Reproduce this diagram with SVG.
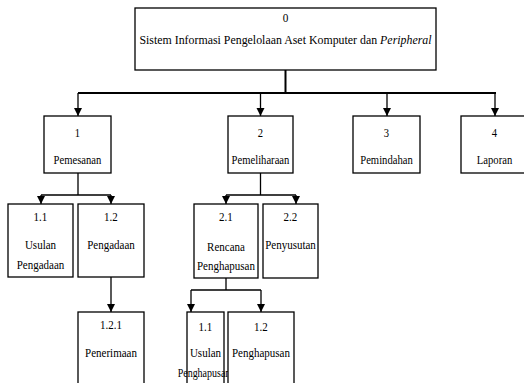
<svg xmlns="http://www.w3.org/2000/svg" width="524" height="383" viewBox="0 0 524 383">
<style>
.box{fill:#fff;stroke:#000;stroke-width:1.3}
text{font-family:'Liberation Serif','Times New Roman',serif;font-size:12.5px;fill:#000;text-anchor:middle}
.c{fill:none;stroke:#000;stroke-width:1.3}
.ct{fill:none;stroke:#000;stroke-width:2}
</style>
<defs>
<marker id="ah" viewBox="0 0 8 10" refX="8" refY="5" markerWidth="8" markerHeight="10" markerUnits="userSpaceOnUse" orient="auto">
<path d="M0,1 L8,5 L0,9 Z" fill="#000"/>
</marker>
</defs>
<rect width="524" height="383" fill="#fff"/>
<g id="connectors">
<path class="ct" d="M285.5,70 V93 M78,93 H496"/>
<path class="c" d="M78,93 V116" marker-end="url(#ah)"/>
<path class="c" d="M260.5,93 V116" marker-end="url(#ah)"/>
<path class="c" d="M387,93 V116" marker-end="url(#ah)"/>
<path class="c" d="M495,93 V116" marker-end="url(#ah)"/>
<path class="c" d="M78,173 V195 M41,195 H111"/>
<path class="c" d="M41,195 V204" marker-end="url(#ah)"/>
<path class="c" d="M111,195 V204" marker-end="url(#ah)"/>
<path class="c" d="M260.5,173 V195 M226,195 H296"/>
<path class="c" d="M226,195 V204" marker-end="url(#ah)"/>
<path class="c" d="M296,195 V204" marker-end="url(#ah)"/>
<path class="c" d="M111,277 V312" marker-end="url(#ah)"/>
<path class="c" d="M226,278 V290 M191,290 H261"/>
<path class="c" d="M191,290 V312" marker-end="url(#ah)"/>
<path class="c" d="M261,290 V312" marker-end="url(#ah)"/>
</g>
<g id="n0">
<rect class="box" x="135" y="8" width="301" height="62"/>
<text transform="translate(285.5,22) scale(0.9,1)">0</text>
<text transform="translate(285.5,44) scale(0.95,1)">Sistem Informasi Pengelolaan Aset Komputer dan <tspan font-style="italic">Peripheral</tspan></text>
</g>
<g id="n1">
<rect class="box" x="44" y="116" width="67" height="57"/>
<text transform="translate(77.5,137) scale(0.85,1)">1</text>
<text transform="translate(77.5,164) scale(0.85,1)">Pemesanan</text>
</g>
<g id="n2">
<rect class="box" x="228" y="116" width="65" height="57"/>
<text transform="translate(260.5,137) scale(0.85,1)">2</text>
<text transform="translate(260.5,164) scale(0.85,1)">Pemeliharaan</text>
</g>
<g id="n3">
<rect class="box" x="353" y="116" width="67" height="57"/>
<text transform="translate(386.5,137) scale(0.85,1)">3</text>
<text transform="translate(386.5,164) scale(0.85,1)">Pemindahan</text>
</g>
<g id="n4">
<rect class="box" x="461" y="116" width="67" height="57"/>
<text transform="translate(494.5,137) scale(0.85,1)">4</text>
<text transform="translate(494.5,164) scale(0.85,1)">Laporan</text>
</g>
<g id="n1-1">
<rect class="box" x="8" y="204" width="65" height="73"/>
<text transform="translate(40.5,221) scale(0.88,1)">1.1</text>
<text transform="translate(40.5,249) scale(0.88,1)">Usulan</text>
<text transform="translate(40.5,269) scale(0.88,1)">Pengadaan</text>
</g>
<g id="n1-2">
<rect class="box" x="78" y="204" width="66" height="73"/>
<text transform="translate(111,221) scale(0.88,1)">1.2</text>
<text transform="translate(111,249) scale(0.88,1)">Pengadaan</text>
</g>
<g id="n1-2-1">
<rect class="box" x="78" y="312" width="66" height="80"/>
<text transform="translate(111,329) scale(0.88,1)">1.2.1</text>
<text transform="translate(111,357) scale(0.88,1)">Penerimaan</text>
</g>
<g id="n2-1">
<rect class="box" x="194" y="204" width="64" height="74"/>
<text transform="translate(226,221) scale(0.88,1)">2.1</text>
<text transform="translate(226,251) scale(0.88,1)">Rencana</text>
<text transform="translate(226,270) scale(0.88,1)">Penghapusan</text>
</g>
<g id="n2-2">
<rect class="box" x="263" y="204" width="55" height="74"/>
<text transform="translate(290.5,221) scale(0.88,1)">2.2</text>
<text transform="translate(290.5,249) scale(0.88,1)">Penyusutan</text>
</g>
<g id="n2-1-1">
<rect class="box" x="187" y="312" width="37" height="80"/>
<text transform="translate(205.5,331) scale(0.88,1)">1.1</text>
<text transform="translate(205.5,357) scale(0.88,1)">Usulan</text>
<text transform="translate(204,377) scale(0.8,1)">Penghapusan</text>
</g>
<g id="n2-1-2">
<rect class="box" x="228" y="312" width="66" height="80"/>
<text transform="translate(261,331) scale(0.88,1)">1.2</text>
<text transform="translate(261,357) scale(0.88,1)">Penghapusan</text>
</g>
</svg>
